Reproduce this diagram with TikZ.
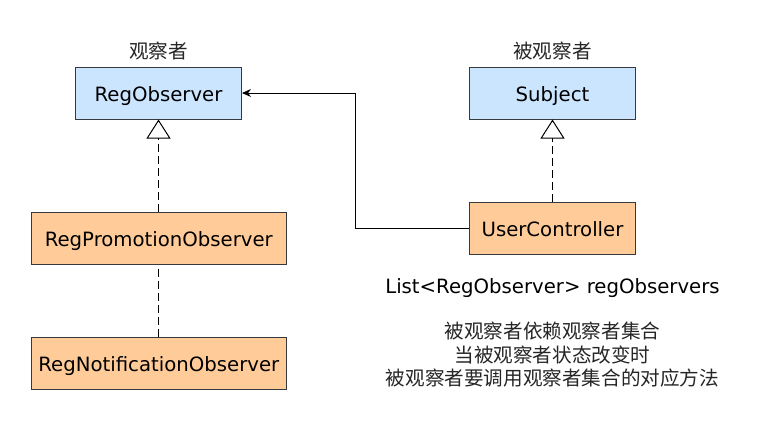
\documentclass[tikz,border=0pt]{standalone}
\usepackage{fontspec}
\setmainfont{DejaVu Sans}
\newfontfamily\cjk{Noto Sans CJK SC}
\usetikzlibrary{arrows.meta}
\definecolor{blueF}{HTML}{CCE5FF}
\definecolor{orangeF}{HTML}{FFCC99}
\definecolor{borderC}{HTML}{36393D}
\begin{document}
\begin{tikzpicture}[x=1pt,y=-1pt,
  every node/.style={font=\fontsize{19.7}{23.5}\selectfont},
  cls/.style={draw=borderC,line width=1pt,minimum height=52pt,inner sep=0pt,text height=17.7pt,text depth=1.6pt},
  bluebox/.style={cls,fill=blueF,minimum width=166pt},
  orangebox/.style={cls,fill=orangeF},
  realize/.style={line width=1pt,dash pattern=on 8pt off 4pt,-{Triangle[open,length=19pt,width=24pt,line width=1pt]}},
  depline/.style={line width=1pt,dash pattern=on 8pt off 4pt},
  assoc/.style={line width=1pt,-{Stealth[length=9pt,width=8pt]}},
  cjklabel/.style={font=\cjk\fontsize{19.6}{23.5}\selectfont,text=black!85}]
\useasboundingbox (0,0) rectangle (763,421);
\fill[white] (0,0) rectangle (763,421);
\node[bluebox] (reg) at (158.5,93) {RegObserver};
\node[bluebox] (sub) at (552.5,93) {Subject};
\node[orangebox,minimum width=166pt] (uc) at (552.5,228.5) {UserController};
\node[orangebox,minimum width=255pt] (promo) at (158.8,238.3) {RegPromotionObserver};
\node[orangebox,minimum width=255pt] (notif) at (158.8,363) {RegNotificationObserver};
\node[cjklabel] (lobs) at (158.5,51.5) {观察者};
\node[cjklabel] (lsub) at (552.5,51.5) {被观察者};
\node (list) at (552.5,288) {List<RegObserver> regObservers};
\node[cjklabel,align=center] (note) at (552.5,355) {被观察者依赖观察者集合\\当被观察者状态改变时\\被观察者要调用观察者集合的对应方法};
\coordinate (c1) at (355.5,228.5);
\coordinate (c2) at (355.5,93);
\draw[realize] (promo.north -| reg.south) -- (reg.south);
\draw[depline] (notif.north -| reg.south) -- (promo.south -| reg.south);
\draw[realize] (uc.north) -- (sub.south);
\draw[assoc] (uc.west) -- (c1) -- (c2) -- (reg.east);
\end{tikzpicture}
\end{document}
